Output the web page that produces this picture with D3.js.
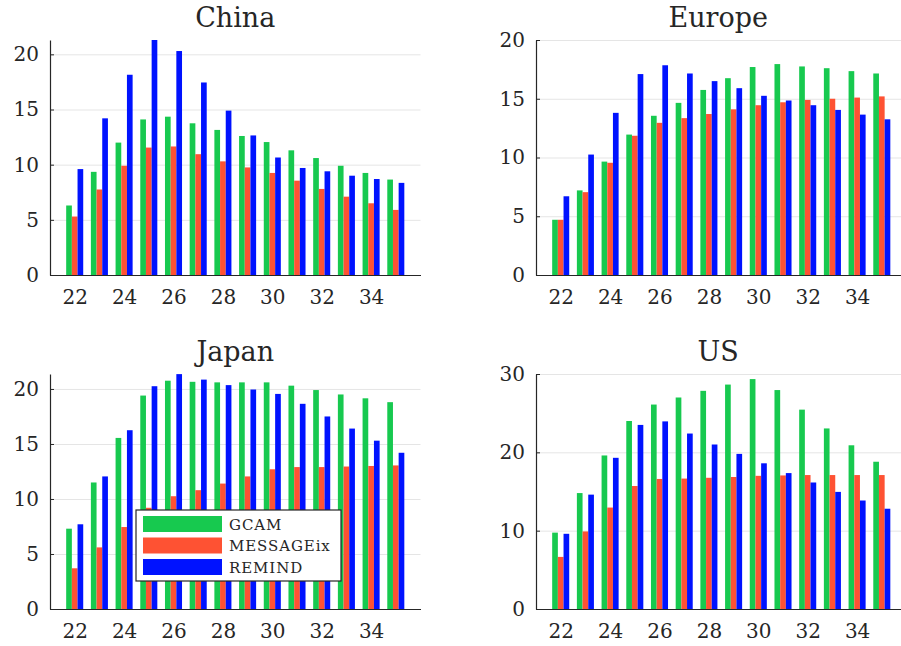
<!DOCTYPE html>
<html>
<head>
  <meta charset="utf-8">
  <script src="https://d3js.org/d3.v7.min.js"></script>
</head>

<style>
body {
  margin: 0;
  background: white;
}
text {
  font-family: "DejaVu Serif", serif;
  fill: #262626;
}
</style>

<body>
</body>

<script>
    // x categories
    var years = [22, 23, 24, 25, 26, 27, 28, 29, 30, 31, 32, 33, 34, 35];
    var models = ["GCAM", "MESSAGEix", "REMIND"];
    var colors = ["#17c94f", "#fe5233", "#0012ff"];

    var chinaGCAM    = [6.3, 9.35, 12.0, 14.1, 14.35, 13.75, 13.15, 12.6, 12.05, 11.3, 10.6, 9.9, 9.25, 8.65];
    var chinaMESSAGE = [5.3, 7.75, 9.9, 11.55, 11.65, 10.95, 10.3, 9.75, 9.25, 8.55, 7.8, 7.1, 6.5, 5.9];
    var chinaREMIND  = [9.6, 14.2, 18.15, 21.3, 20.3, 17.45, 14.9, 12.65, 10.65, 9.7, 9.4, 9.0, 8.7, 8.35];

    var europeGCAM    = [4.7, 7.2, 9.65, 11.95, 13.55, 14.65, 15.75, 16.75, 17.7, 17.95, 17.75, 17.6, 17.35, 17.15];
    var europeMESSAGE = [4.7, 7.05, 9.55, 11.85, 12.95, 13.35, 13.7, 14.1, 14.45, 14.7, 14.9, 15.0, 15.1, 15.2];
    var europeREMIND  = [6.7, 10.25, 13.8, 17.1, 17.85, 17.15, 16.5, 15.9, 15.25, 14.85, 14.45, 14.05, 13.65, 13.25];

    var japanGCAM    = [7.3, 11.5, 15.55, 19.4, 20.75, 20.65, 20.6, 20.6, 20.6, 20.3, 19.9, 19.5, 19.15, 18.8];
    var japanMESSAGE = [3.7, 5.6, 7.45, 9.2, 10.25, 10.8, 11.4, 12.05, 12.7, 12.9, 12.9, 12.95, 13.0, 13.05];
    var japanREMIND  = [7.7, 12.05, 16.25, 20.25, 21.35, 20.85, 20.35, 19.95, 19.55, 18.65, 17.5, 16.4, 15.3, 14.2];

    var usGCAM    = [9.75, 14.8, 19.6, 24.0, 26.1, 27.0, 27.85, 28.65, 29.35, 27.95, 25.45, 23.05, 20.9, 18.8];
    var usMESSAGE = [6.65, 9.9, 12.95, 15.7, 16.6, 16.65, 16.75, 16.85, 17.0, 17.05, 17.1, 17.1, 17.1, 17.1];
    var usREMIND  = [9.6, 14.6, 19.3, 23.5, 23.95, 22.4, 21.0, 19.8, 18.6, 17.35, 16.15, 14.95, 13.85, 12.8];

    var xTicks = [22, 24, 26, 28, 30, 32, 34];
    var ticks20 = [0, 5, 10, 15, 20];
    var ticks30 = [0, 10, 20, 30];

    var panels = [
      {name: "China",  series: [chinaGCAM, chinaMESSAGE, chinaREMIND],    left: 50,  top: 40,  ymax: 21.3,  yticks: ticks20},
      {name: "Europe", series: [europeGCAM, europeMESSAGE, europeREMIND], left: 536, top: 40,  ymax: 20,    yticks: ticks20},
      {name: "Japan",  series: [japanGCAM, japanMESSAGE, japanREMIND],    left: 50,  top: 374, ymax: 21.36, yticks: ticks20},
      {name: "US",     series: [usGCAM, usMESSAGE, usREMIND],             left: 536, top: 374, ymax: 30,    yticks: ticks30}
    ];

    var W = 370.5, H = 235;
    var barW = 0.23;

    var svg = d3.select("body")
      .append("svg")
      .attr("width", 901)
      .attr("height", 646);

    panels.forEach(function(p) {
      var g = svg.append("g")
        .attr("transform", "translate(" + p.left + "," + p.top + ")");

      var x = d3.scaleLinear().domain([21, 36]).range([0, W]);
      var y = d3.scaleLinear().domain([0, p.ymax]).range([H, 0]);

      // grid
      g.append("g")
        .call(d3.axisLeft(y).tickValues(p.yticks).tickSize(-W).tickFormat(""))
        .call(function(s) {
          s.select(".domain").remove();
          s.selectAll("line").attr("stroke", "#e5e5e5").attr("stroke-width", 1);
        });

      // bars
      p.series.forEach(function(vals, k) {
        g.append("g")
          .selectAll("rect")
          .data(vals)
          .enter()
          .append("rect")
          .attr("x", function(d, i) { return x(years[i] + (k - 1) * barW - barW / 2); })
          .attr("width", x(21 + barW) - x(21))
          .attr("y", function(d) { return y(d); })
          .attr("height", function(d) { return H - y(d); })
          .attr("fill", colors[k]);
      });

      // y axis
      g.append("g")
        .call(d3.axisLeft(y).tickValues(p.yticks).tickSize(-4).tickSizeOuter(0).tickPadding(11))
        .call(function(s) {
          s.select(".domain").attr("stroke", "#262626").attr("stroke-width", 1.2);
          s.selectAll("line").attr("stroke", "#262626");
          s.selectAll("text").attr("font-size", 20).attr("font-family", "DejaVu Serif").attr("fill", "#262626");
        });

      // x axis
      g.append("g")
        .attr("transform", "translate(0," + H + ")")
        .call(d3.axisBottom(x).tickValues(xTicks).tickSize(0).tickPadding(15))
        .call(function(s) {
          s.select(".domain").attr("stroke", "#262626").attr("stroke-width", 1.2);
          s.selectAll("text").attr("font-size", 20).attr("font-family", "DejaVu Serif").attr("fill", "#262626");
        });

      g.append("text")
        .attr("x", W / 2 - (p.left > 300 ? 3 : 0))
        .attr("y", -13)
        .attr("text-anchor", "middle")
        .attr("font-size", 27)
        .text(p.name);
    });

    // legend (sits on the Japan panel)
    var leg = svg.append("g").attr("transform", "translate(136,510)");
    leg.append("rect")
      .attr("width", 205)
      .attr("height", 71)
      .attr("fill", "white")
      .attr("stroke", "#262626")
      .attr("stroke-width", 1.2);

    models.forEach(function(m, k) {
      leg.append("rect")
        .attr("x", 7)
        .attr("y", 6 + k * 21.5)
        .attr("width", 79)
        .attr("height", 16)
        .attr("fill", colors[k]);
      leg.append("text")
        .attr("x", 93)
        .attr("y", 19.5 + k * 21.5)
        .attr("font-size", 15)
        .attr("letter-spacing", 0.9)
        .text(m);
    });
</script>
</html>
